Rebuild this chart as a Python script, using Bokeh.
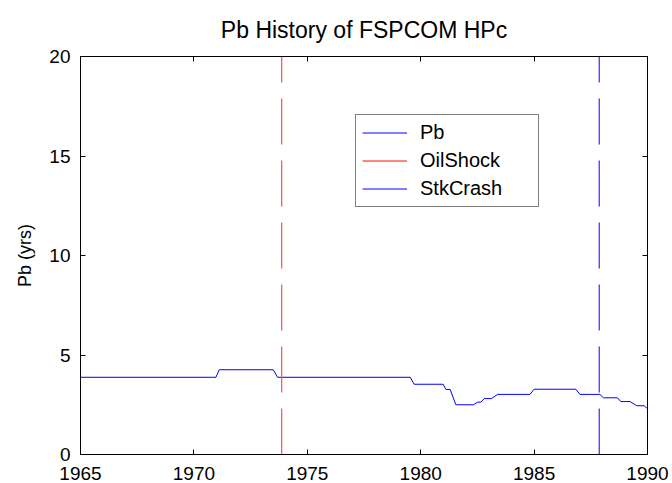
from bokeh.plotting import figure
from bokeh.models import (Range1d, FixedTicker, LinearAxis, Legend, LegendItem)
from bokeh.embed import file_html
from bokeh.resources import INLINE

# ---- data ----
pb_year = [1965.0, 1970.97, 1971.12, 1973.50, 1973.69, 1979.54, 1979.71,
           1980.99, 1981.11, 1981.30, 1981.55, 1982.33, 1982.51, 1982.65,
           1982.80, 1983.12, 1983.39, 1984.82, 1985.00, 1986.84, 1987.02,
           1987.90, 1988.06, 1988.68, 1988.82, 1989.23, 1989.53, 1989.85, 1990.0]
pb_value = [3.88, 3.88, 4.26, 4.26, 3.88, 3.88, 3.53,
            3.53, 3.27, 3.27, 2.50, 2.50, 2.63, 2.63,
            2.81, 2.81, 3.02, 3.02, 3.28, 3.28, 3.02,
            3.02, 2.85, 2.85, 2.66, 2.66, 2.45, 2.45, 2.30]
oil_shock_year = 1973.87
stk_crash_year = 1987.87
event_y = [0, 20]
x_ticks = [1965, 1970, 1975, 1980, 1985, 1990]
y_ticks = [0, 5, 10, 15, 20]

FONT = "Liberation Sans"
W, H = 672, 483
FL, FR, FT, FB = 80, 647, 56, 454

p = figure(width=W, height=H, output_backend="svg", toolbar_location=None,
           x_range=Range1d(1965, 1990), y_range=Range1d(0, 20),
           min_border_left=FL, min_border_right=W - FR,
           min_border_top=FT, min_border_bottom=H - FB,
           title="Pb History of FSPCOM HPc")
p.background_fill_color = "white"
p.border_fill_color = "white"
p.outline_line_color = "black"
p.outline_line_width = 1
p.xgrid.visible = False
p.ygrid.visible = False

p.title.align = "center"
p.title.text_font = FONT
p.title.text_font_size = "23px"
p.title.text_font_style = "normal"
p.title.text_color = "black"
p.title.standoff = 28

for ax in (p.xaxis[0], p.yaxis[0]):
    ax.major_label_text_font = FONT
    ax.major_label_text_font_size = "19px"
    ax.major_label_text_color = "black"
    ax.major_tick_in = 5
    ax.major_tick_out = 0
    ax.minor_tick_line_color = None
    ax.axis_line_color = "black"
    ax.major_tick_line_color = "black"

p.xaxis[0].ticker = FixedTicker(ticks=x_ticks)
p.yaxis[0].ticker = FixedTicker(ticks=y_ticks)
p.xaxis[0].major_label_standoff = 12
p.yaxis[0].major_label_standoff = 10
p.yaxis[0].axis_label = "Pb (yrs)"
p.yaxis[0].axis_label_text_font = FONT
p.yaxis[0].axis_label_text_font_size = "18px"
p.yaxis[0].axis_label_text_font_style = "normal"
p.yaxis[0].axis_label_text_color = "black"
p.yaxis[0].axis_label_standoff = 11

# box ticks on top and right (no labels drawn)
top = LinearAxis(ticker=FixedTicker(ticks=x_ticks), major_label_text_color=None,
                 major_label_text_font_size="0px",
                 major_tick_in=5, major_tick_out=0, minor_tick_line_color=None,
                 major_label_standoff=0, axis_line_color="black")
right = LinearAxis(ticker=FixedTicker(ticks=y_ticks), major_label_text_color=None,
                   major_label_text_font_size="0px",
                   major_tick_in=5, major_tick_out=0, minor_tick_line_color=None,
                   major_label_standoff=0, axis_line_color="black")
p.add_layout(top, "above")
p.add_layout(right, "right")

r_pb = p.line(pb_year, pb_value, line_color="blue", line_width=1)
r_oil = p.line([oil_shock_year, oil_shock_year], event_y, line_color="#ff5c5c",
               line_width=1.3, line_dash="46 16")
r_stk = p.line([stk_crash_year, stk_crash_year], event_y, line_color="blue",
               line_width=1, line_dash="46 16")

legend = Legend(items=[LegendItem(label="Pb", renderers=[r_pb]),
                       LegendItem(label="OilShock", renderers=[r_oil]),
                       LegendItem(label="StkCrash", renderers=[r_stk])],
                location=(355 - FL, FB - 207),
                orientation="vertical",
                label_text_font=FONT, label_text_font_size="20px",
                label_text_color="black",
                glyph_width=45, glyph_height=21, label_height=21,
                label_standoff=13, label_width=112,
                padding=6, spacing=5, margin=0,
                border_line_color="black", border_line_width=1,
                background_fill_color="white", background_fill_alpha=1)
p.add_layout(legend, "center")

open("out.html", "w").write(file_html(p, INLINE))
